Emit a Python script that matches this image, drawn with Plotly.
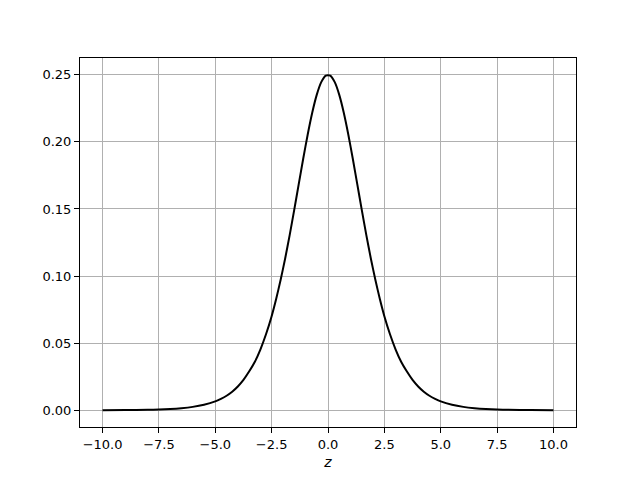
import plotly.graph_objects as go

# values (symmetric about z = 0)
z_right = [0.1, 0.3, 0.5, 0.7, 0.9, 1.1, 1.3, 1.5, 1.7, 1.9, 2.1, 2.3, 2.5, 2.75, 3.0,
           3.25, 3.5, 3.75, 4.0, 4.25, 4.5, 4.75, 5.0, 5.5, 6.0, 6.5, 7.0, 7.5, 8.0, 9.0, 10.0]
y_right = [0.2494, 0.2445, 0.2350, 0.2217, 0.2055, 0.1874, 0.1683, 0.1491, 0.1305, 0.1131,
           0.0972, 0.0829, 0.0701, 0.0566, 0.0452, 0.0359, 0.0288, 0.0226, 0.0177, 0.0138,
           0.0108, 0.0085, 0.0066, 0.0041, 0.0025, 0.0015, 0.0009, 0.0006, 0.0003, 0.0001, 0.00005]

z_vals = [-v for v in reversed(z_right)] + z_right
y_vals = list(reversed(y_right)) + y_right

x_tick_vals = [-10.0, -7.5, -5.0, -2.5, 0.0, 2.5, 5.0, 7.5, 10.0]
x_tick_text = ["\u221210.0", "\u22127.5", "\u22125.0", "\u22122.5", "0.0", "2.5", "5.0", "7.5", "10.0"]
y_tick_vals = [0.00, 0.05, 0.10, 0.15, 0.20, 0.25]
y_tick_text = ["0.00", "0.05", "0.10", "0.15", "0.20", "0.25"]

fig = go.Figure()
fig.add_trace(go.Scatter(x=z_vals, y=y_vals, mode="lines", line_shape="spline",
                         line=dict(color="black", width=2, smoothing=0.5), showlegend=False))

axis_common = dict(showline=True, linecolor="black", linewidth=1, mirror=True,
                   ticks="outside", ticklen=5, tickwidth=1, tickcolor="black",
                   showgrid=True, gridcolor="#b0b0b0", gridwidth=1, zeroline=False,
                   tickfont=dict(family="DejaVu Sans", size=13, color="black"))

fig.update_layout(
    width=640, height=480,
    margin=dict(l=72, r=72, t=50, b=61),
    paper_bgcolor="white", plot_bgcolor="white",
    xaxis=dict(range=[-11, 11], tickvals=x_tick_vals, ticktext=x_tick_text,
               title=dict(text="<i>z</i>", font=dict(family="DejaVu Sans", size=14, color="black"),
                          standoff=6),
               **axis_common),
    yaxis=dict(range=[-0.0125, 0.2625], tickvals=y_tick_vals, ticktext=y_tick_text,
               **axis_common),
)

fig.write_html("out.html")
